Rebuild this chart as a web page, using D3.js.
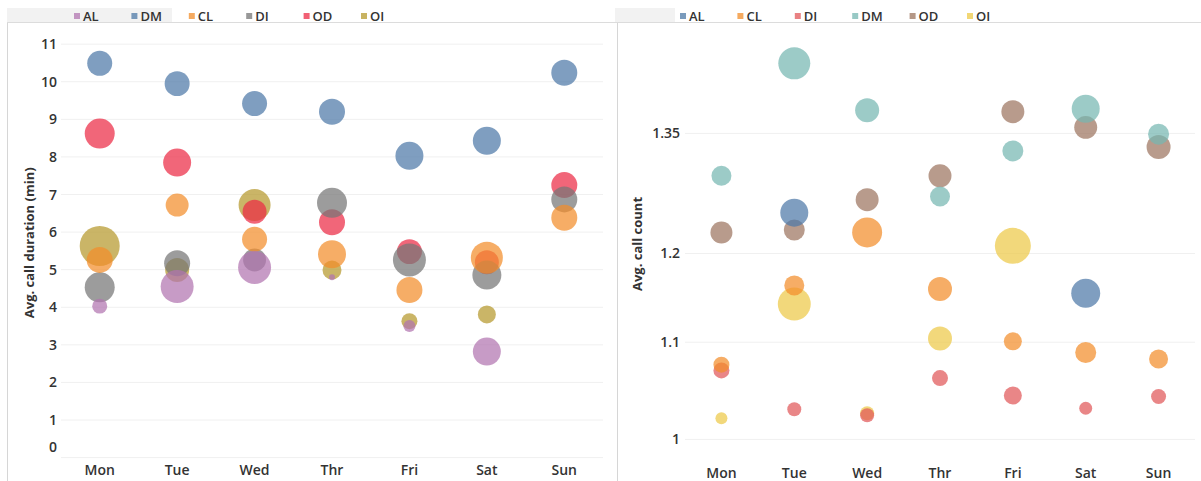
<!DOCTYPE html>
<html lang="en">
<head>
<meta charset="utf-8"/>
<title>Avg. call duration and count by day</title>
<script src="https://d3js.org/d3.v7.min.js"></script>
<style>
  body { margin: 0; background: #fff; }
  text { font-family: "Open Sans", "Noto Sans", sans-serif; fill: #333; }
</style>
</head>
<body>
<script>
// days on the x axis (both panels)
var days = ["Mon", "Tue", "Wed", "Thr", "Fri", "Sat", "Sun"];

// left panel: avg. call duration (min), one row per series
var durSeries = ["AL", "DM", "CL", "DI", "OD", "OI"];
var durColors = ["#b275b0", "#4e79a7", "#f28e2b", "#767676", "#ec2b45", "#b6992d"];
var durValues = [
	[4.03, 4.55, 5.06, 4.80, 3.50, 2.82, null],   // AL
	[10.49, 9.95, 9.42, 9.20, 8.03, 8.43, 10.24], // DM
	[5.26, 6.72, 5.81, 5.41, 4.46, 5.32, 6.38],   // CL
	[4.53, 5.17, 5.26, 6.78, 5.26, 4.86, 6.87],   // DI
	[8.62, 7.85, 6.54, 6.26, 5.48, 5.20, 7.25],   // OD
	[5.63, 4.99, 6.72, 4.99, 3.63, 3.81, null]    // OI
];
var durSizes = [
	[56, 272, 272, 9, 36, 196, null],
	[156, 156, 156, 169, 196, 196, 169],
	[169, 132, 156, 196, 169, 256, 169],
	[225, 169, 132, 225, 272, 210, 169],
	[225, 196, 144, 169, 156, 144, 169],
	[400, 144, 256, 90, 64, 81, null]
];
var durTicks = [0, 1, 2, 3, 4, 5, 6, 7, 8, 9, 10, 11];

// right panel: avg. call count (log axis), one row per series
var cntSeries = ["AL", "CL", "DI", "DM", "OD", "OI"];
var cntColors = ["#4e79a7", "#f28e2b", "#e15759", "#76b7b2", "#9c755f", "#edc948"];
var cntValues = [
	[null, 1.249, null, null, null, 1.154, null], // AL
	[1.076, 1.163, 1.225, 1.159, 1.101, 1.089, 1.082], // CL
	[1.070, 1.030, 1.024, 1.062, 1.044, 1.031, 1.043], // DI
	[1.295, 1.446, 1.381, 1.269, 1.327, 1.383, 1.349], // DM
	[1.225, 1.228, 1.265, 1.295, 1.379, 1.358, 1.332], // OD
	[1.021, 1.142, 1.026, 1.104, 1.209, null, null]    // OI
];
var cntSizes = [
	[null, 196, null, null, null, 210, null],
	[64, 100, 225, 144, 81, 110, 90],
	[64, 49, 49, 64, 81, 42, 56],
	[100, 256, 144, 100, 110, 196, 110],
	[121, 110, 132, 132, 132, 132, 144],
	[36, 272, 49, 144, 324, null, null]
];
var cntTicks = [1, 1.1, 1.2, 1.35];

var w = 1201;
var h = 481;

var svg = d3.select("body")
			.append("svg")
			.attr("width", w)
			.attr("height", h);

// bubble size: area proportional to size value
var rScale = d3.scaleSqrt().domain([0, 400]).range([0, 20]);

function drawPanel(opt) {
	var g = svg.append("g");

	// top legend strip
	g.append("rect")
		.attr("x", opt.stripX).attr("y", 8)
		.attr("width", opt.stripW).attr("height", 14)
		.attr("fill", "#f2f2f2");
	g.append("line")
		.attr("x1", opt.left).attr("x2", opt.right)
		.attr("y1", 22.5).attr("y2", 22.5)
		.attr("stroke", "#dcdcdc");
	// panel border on the left
	g.append("line")
		.attr("x1", opt.borderX).attr("x2", opt.borderX)
		.attr("y1", 23).attr("y2", h)
		.attr("stroke", "#d6d6d6");

	var xScale = d3.scaleBand()
				.domain(days)
				.range([opt.x0, opt.x1]);

	var yScale = opt.yScale;

	// grid lines
	g.selectAll(".grid")
		.data(opt.ticks)
		.enter()
		.append("line")
		.attr("x1", opt.x0).attr("x2", opt.x1)
		.attr("y1", function(d) {return yScale(d);})
		.attr("y2", function(d) {return yScale(d);})
		.attr("stroke", "#f0f0f0");

	// y tick labels (edge labels kept inside the pane)
	g.selectAll(".ytick")
		.data(opt.ticks)
		.enter()
		.append("text")
		.attr("x", opt.tickX)
		.attr("y", function(d) {return Math.min(yScale(d), opt.yBottom - 11) + 5;})
		.attr("text-anchor", "end")
		.attr("font-size", "14px")
		.attr("font-weight", 600)
		.text(function(d) {return d;});

	// y title
	g.append("text")
		.attr("transform", "translate(" + opt.titleX + "," + ((opt.yTop + opt.yBottom) / 2) + ") rotate(-90)")
		.attr("text-anchor", "middle")
		.attr("font-size", "13px")
		.attr("font-weight", 700)
		.text(opt.title);

	// x labels
	g.selectAll(".xtick")
		.data(days)
		.enter()
		.append("text")
		.attr("x", function(d) {return xScale(d) + xScale.bandwidth() / 2;})
		.attr("y", opt.xLabelY)
		.attr("text-anchor", "middle")
		.attr("font-size", "14px")
		.attr("font-weight", 600)
		.text(function(d) {return d;});

	// legend
	var leg = g.selectAll(".leg")
		.data(opt.series)
		.enter()
		.append("g")
		.attr("transform", function(d, i) {return "translate(" + (opt.legX + i * 57.4) + ",0)";});
	leg.append("rect")
		.attr("x", 0).attr("y", 13)
		.attr("width", 6).attr("height", 6)
		.attr("fill", function(d, i) {return opt.colors[i];})
		.attr("opacity", 0.75);
	leg.append("text")
		.attr("x", 9).attr("y", 21)
		.attr("font-size", "13px")
		.attr("font-weight", 600)
		.text(function(d) {return d;});

	// flatten points; series drawn in reverse legend order (first series on top)
	var points = [];
	for (var si = opt.series.length - 1; si >= 0; si--) {
		days.forEach(function(day, di) {
			var v = opt.values[si][di];
			if (v == null) return;
			points.push({series: opt.series[si], color: opt.colors[si], day: day, value: v, size: opt.sizes[si][di]});
		});
	}

	g.selectAll(".dot")
		.data(points)
		.enter()
		.append("circle")
		.attr("cx", function(d) {return xScale(d.day) + xScale.bandwidth() / 2;})
		.attr("cy", function(d) {return yScale(d.value);})
		.attr("r", function(d) {return rScale(d.size);})
		.attr("fill", function(d) {return d.color;})
		.attr("fill-opacity", 0.72);
}

// left panel
drawPanel({
	left: 7, right: 600, stripX: 7, stripW: 165, borderX: 7.5,
	x0: 61, x1: 603,
	yScale: d3.scaleLinear().domain([0, 11.43]).range([457.6, 28]),
	yTop: 28, yBottom: 457.6,
	ticks: durTicks, tickX: 57, titleX: 34,
	title: "Avg. call duration (min)",
	xLabelY: 475,
	series: durSeries, colors: durColors, values: durValues, sizes: durSizes,
	legX: 74
});

// right panel
drawPanel({
	left: 600, right: 1201, stripX: 615, stripW: 60, borderX: 617.5,
	x0: 685, x1: 1195,
	yScale: d3.scaleLog().domain([0.98, 1.497]).range([460, 28]),
	yTop: 28, yBottom: 460,
	ticks: cntTicks, tickX: 680, titleX: 642,
	title: "Avg. call count",
	xLabelY: 478,
	series: cntSeries, colors: cntColors, values: cntValues, sizes: cntSizes,
	legX: 680
});
</script>
</body>
</html>
